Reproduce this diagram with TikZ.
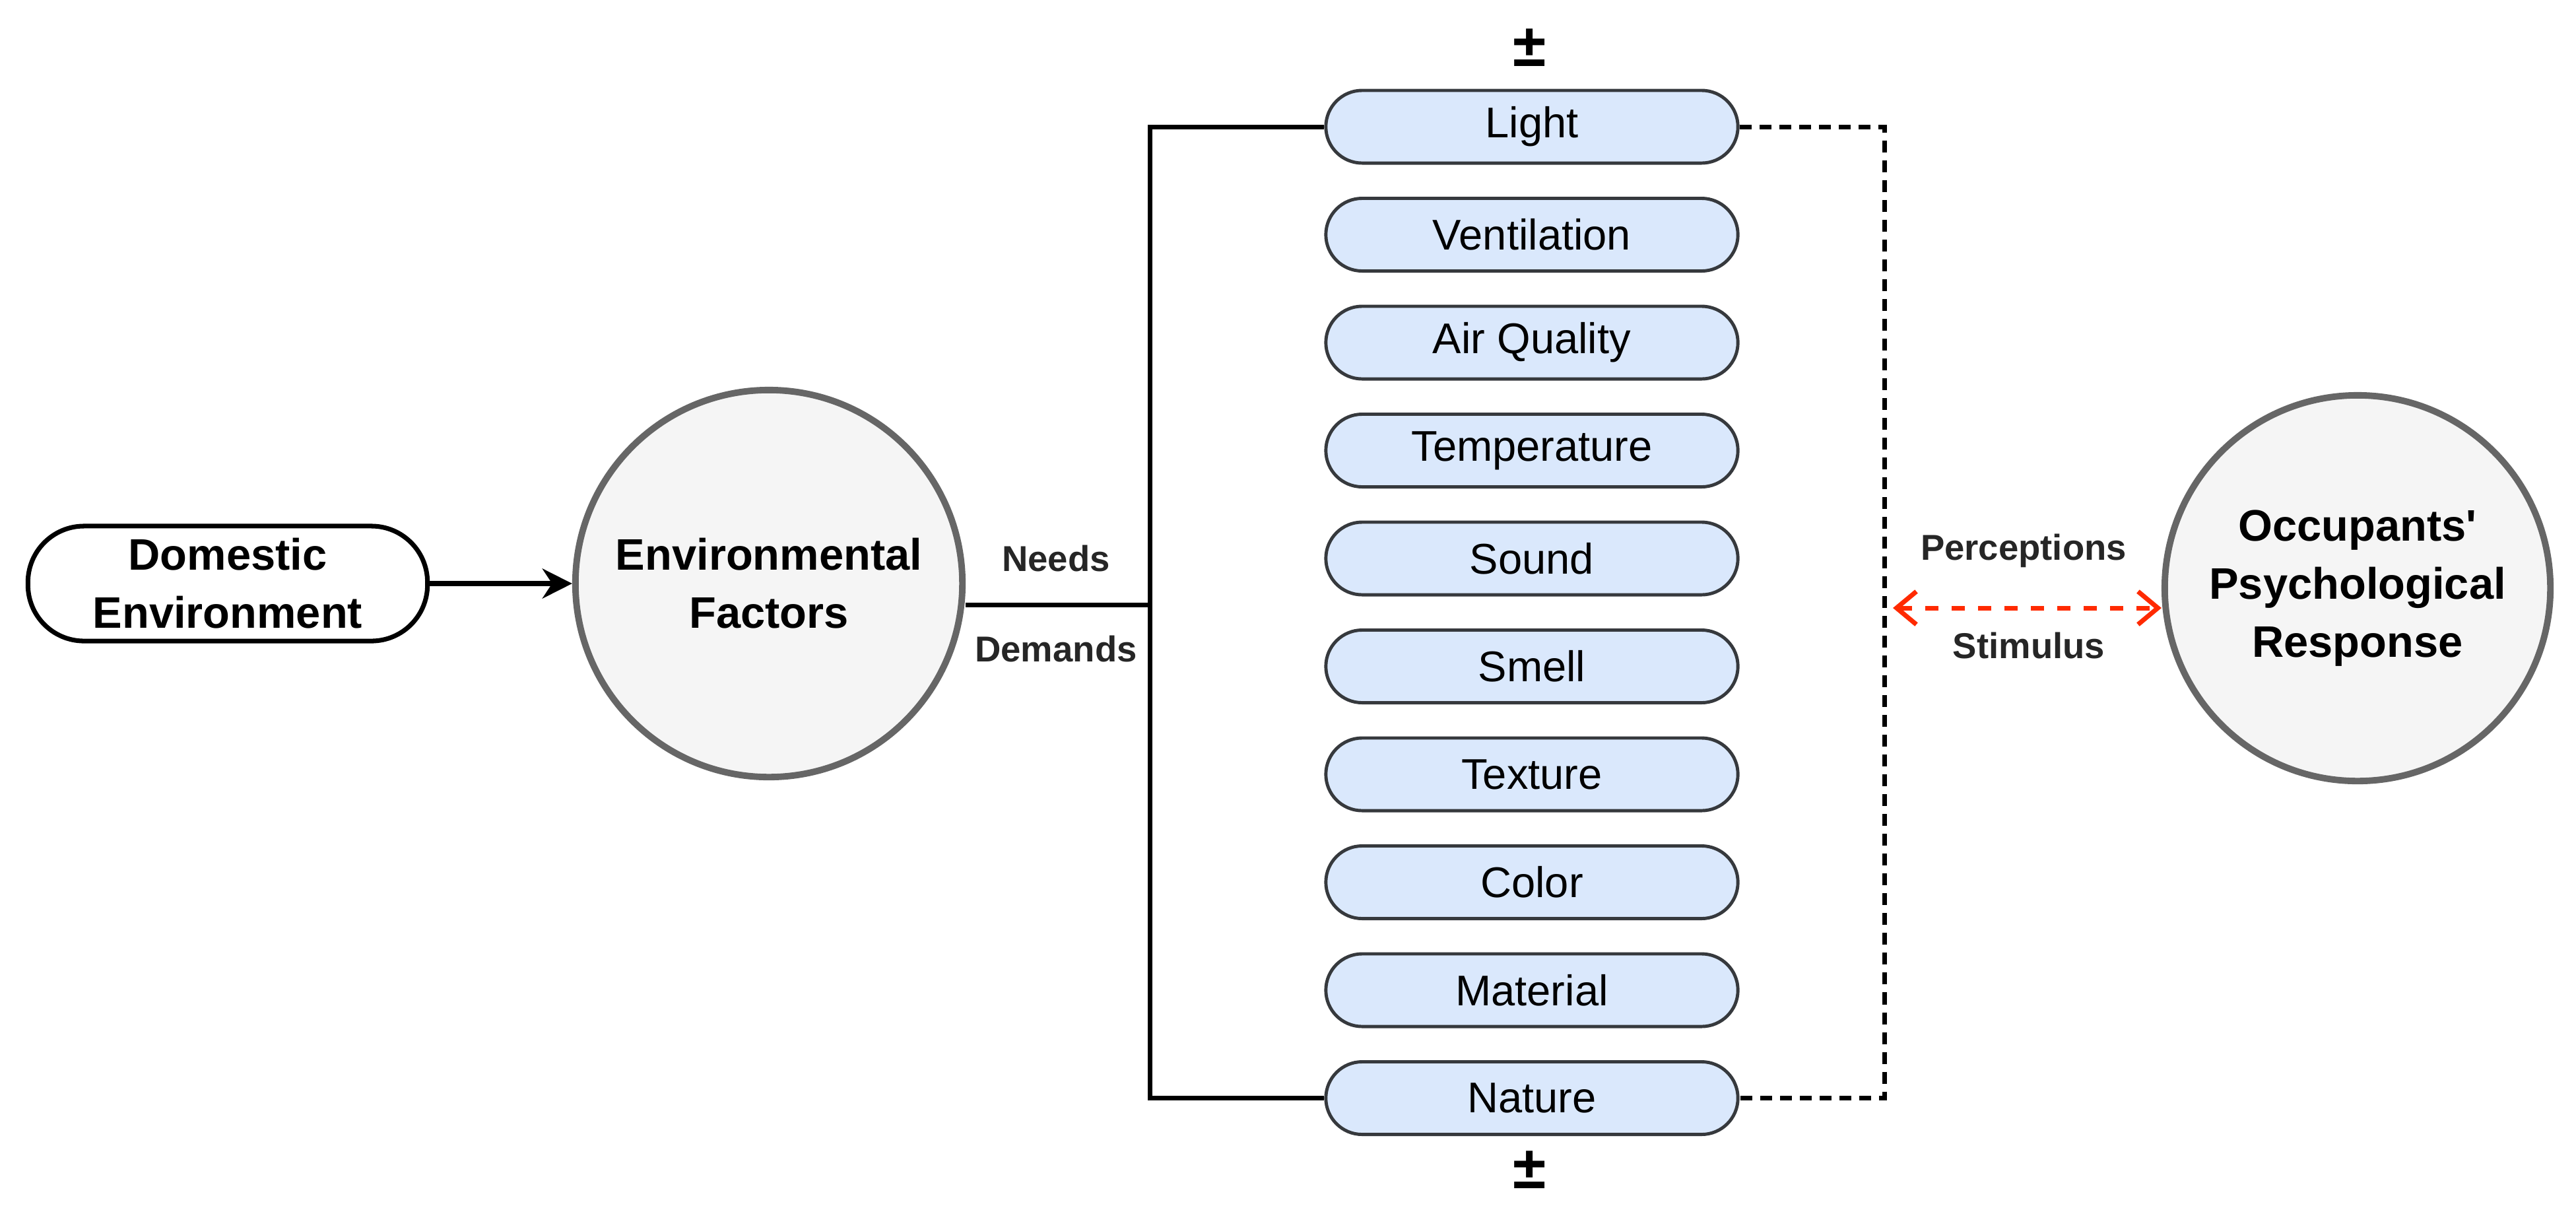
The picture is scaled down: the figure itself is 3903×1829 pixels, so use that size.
\documentclass[tikz,border=0pt]{standalone}
\usepackage{fontspec}
\setmainfont{Liberation Sans}
\usetikzlibrary{arrows.meta,calc}
\definecolor{boxfill}{HTML}{DAE8FC}
\definecolor{boxline}{HTML}{36393D}
\definecolor{circfill}{HTML}{F5F5F5}
\definecolor{circline}{HTML}{666666}
\definecolor{arrred}{HTML}{FF2A00}
\begin{document}
\begin{tikzpicture}[x=0.01cm,y=-0.01cm,
    factor/.style={draw=boxline,fill=boxfill,line width=1.4pt,rounded corners=0.55cm,
        minimum width=6.24cm,minimum height=1.1cm,font=\fontsize{18.5}{21}\selectfont},
    bigcirc/.style={circle,draw=circline,fill=circfill,line width=2.8pt,minimum size=5.86cm,
        align=center,font=\bfseries\fontsize{19}{25}\selectfont},
    lbl/.style={font=\bfseries\fontsize{15.5}{17}\selectfont,text=black!85},
    >=Stealth]
  \useasboundingbox (0,0) rectangle (3903,1829);
  \node[draw,line width=2pt,rounded corners=0.85cm,minimum width=6.05cm,minimum height=1.74cm,
        align=center,font=\bfseries\fontsize{19}{25}\selectfont] (dom) at (345,884) {Domestic\\Environment};
  \node[bigcirc] (env) at (1165,884) {Environmental\\Factors};
  \node[bigcirc,minimum size=5.84cm] (occ) at (3572,891) {Occupants\textquotesingle\\Psychological\\Response};
  \draw[line width=2.4pt,-{Stealth[length=0.45cm,width=0.45cm]}] (dom) -- (env);

  \foreach \t [count=\i from 0] in {Light,Ventilation,Air Quality,Temperature,Sound,Smell,Texture,Color,Material,Nature}
    \node[factor] (f\i) at (2321,{192+\i*163.5}) {\t};

  \node[font=\bfseries\fontsize{26}{28}\selectfont] (pt) at (2318,72) {±};
  \node[font=\bfseries\fontsize{26}{28}\selectfont] (pb) at (2318,1772) {±};

  \coordinate (bl) at (1742,916);
  \draw[line width=2pt] (env.east |- bl) -- (bl);
  \draw[line width=2pt] (f0.west) -- (f0.west -| bl) -- (f9.west -| bl) -- (f9.west);
  \node[lbl] (needs) at (1600,846) {Needs};
  \node[lbl] (dem) at (1600,983) {Demands};

  \coordinate (dl) at (2855,192);
  \draw[line width=2pt,dash pattern=on 0.18cm off 0.12cm] (f0.east) -- (dl) -- (f9.east -| dl) -- (f9.east);
  \coordinate (ra) at (2868,921);
  \draw[arrred,line width=2pt,dash pattern=on 0.2cm off 0.2cm,{Straight Barb[length=0.3cm,width=0.5cm]}-{Straight Barb[length=0.3cm,width=0.5cm]}]
     (ra) -- (occ.west |- ra);
  \node[lbl] (perc) at (3066,834) {Perceptions};
  \node[lbl] (stim) at (3074,978) {Stimulus};
\end{tikzpicture}
\end{document}
